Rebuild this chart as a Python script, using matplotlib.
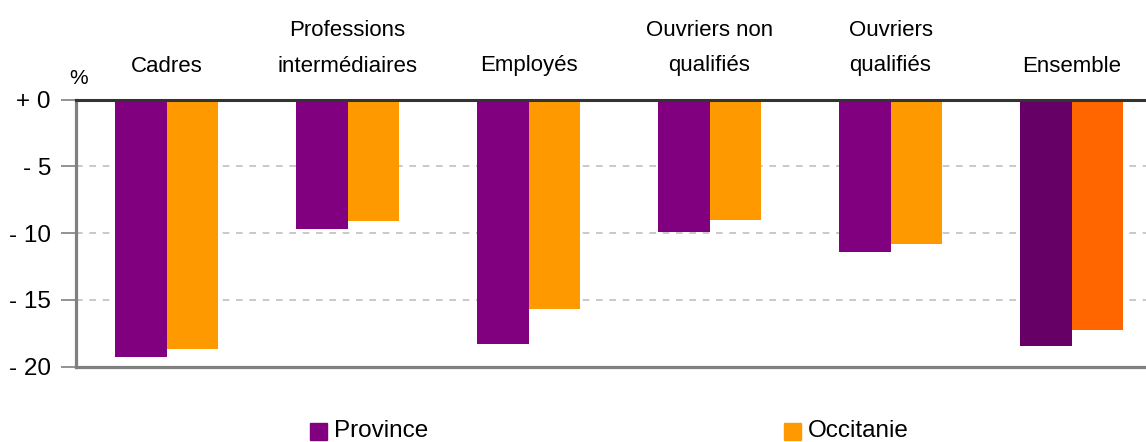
import matplotlib
matplotlib.use("Agg")
import matplotlib.pyplot as plt
import matplotlib.transforms as mtransforms
from matplotlib.patches import Rectangle
import numpy as np

plt.rcParams["font.family"] = ["Liberation Sans", "DejaVu Sans"]

# data (% change)
categories = ["Cadres", "Professions\nintermédiaires", "Employés",
              "Ouvriers non\nqualifiés", "Ouvriers\nqualifiés", "Ensemble"]
province = [-19.3, -9.7, -18.3, -9.9, -11.4, -18.5]
occitanie = [-18.7, -9.1, -15.7, -9.05, -10.85, -17.3]
yticks = [0, -5, -10, -15, -20]
ytick_labels = ["+ 0", "- 5", "- 10", "- 15", "- 20"]

PURPLE, ORANGE = "#800080", "#FF9900"
PURPLE_DARK, ORANGE_DARK = "#660066", "#FF6600"

W, H = 1146, 442
fig = plt.figure(figsize=(W / 100, H / 100), dpi=100)
ax = fig.add_axes([76 / W, (H - 366.5) / H, (W - 76) / W, 267 / H])

x = np.arange(len(categories))
bw = 51.5 / 181
p_cols = [PURPLE] * (len(categories) - 1) + [PURPLE_DARK]
o_cols = [ORANGE] * (len(categories) - 1) + [ORANGE_DARK]
ax.bar(x - bw / 2, province, bw, color=p_cols, zorder=2)
ax.bar(x + bw / 2, occitanie, bw, color=o_cols, zorder=2)

ax.set_xlim(-0.5, -0.5 + (W - 76) / 181)
ax.set_ylim(-20, 0)
ax.set_yticks(yticks)
ax.set_yticklabels(ytick_labels, fontsize=17.5)
ax.set_xticks([])
ax.tick_params(axis="y", length=11, width=1.2, color="#808080", pad=7)
for y in yticks[1:-1]:
    ax.axhline(y, color="#c0c0c0", lw=1.2, ls=(0, (4, 4)), zorder=1)
ax.axhline(0, color="#333333", lw=2.2, zorder=3, clip_on=False)

for side in ("top", "right"):
    ax.spines[side].set_visible(False)
for side in ("left", "bottom"):
    ax.spines[side].set_color("#808080")
    ax.spines[side].set_linewidth(2.3)

# category labels above the plot, baselines aligned
trans = mtransforms.blended_transform_factory(ax.transData, fig.transFigure)
for xi, lab in zip(x, categories):
    lines = lab.split("\n")
    for k, line in enumerate(reversed(lines)):
        ypix = 71.5 - k * 35.7
        ax.text(xi, 1 - ypix / H, line, transform=trans, ha="center",
                va="baseline", fontsize=16)

fig.text(69 / W, 1 - 84 / H, "%", fontsize=15, ha="left", va="baseline")

# legend
for (lx, col, name) in [(310, PURPLE, "Province"), (784, ORANGE, "Occitanie")]:
    fig.patches.append(Rectangle((lx / W, 2 / H), 17 / W, 17 / H, color=col,
                                 transform=fig.transFigure, figure=fig))
    fig.text((lx + 24) / W, 5 / H, name, fontsize=17.5, ha="left", va="baseline")

fig.savefig("out.png", dpi=100)
